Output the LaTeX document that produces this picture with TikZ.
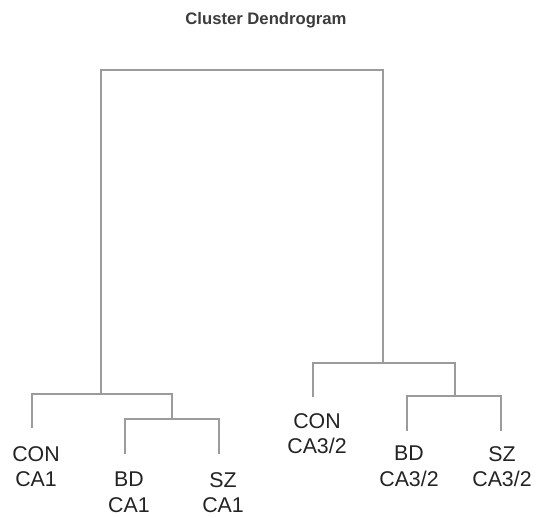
\documentclass[tikz,border=0pt]{standalone}
\usepackage{fontspec}
\setmainfont{Liberation Sans}
\definecolor{branch}{RGB}{155,155,155}
\definecolor{ink}{RGB}{35,35,35}
\begin{document}
\begin{tikzpicture}[x=0.75pt,y=-0.75pt,
  leaf/.style={anchor=north,inner sep=0pt,align=center,text=ink,
    font=\fontsize{16}{19.3}\selectfont},
  link/.style={draw=branch,line width=1.3pt}]
\useasboundingbox (0,0) rectangle (537,518);
\node[anchor=base,text={rgb,255:red,60;green,60;blue,60},
  font=\fontsize{12.5}{15}\selectfont\bfseries] (title) at (266,24) {Cluster Dendrogram};
% leaf labels
\foreach \n/\x/\y/\t in {lc1/36/446/{CON\\CA1}, lb1/129/472/{BD\\CA1}, ls1/223/472/{SZ\\CA1},
  lc3/317/413/{CON\\CA3/2}, lb3/409/446/{BD\\CA3/2}, ls3/502/446/{SZ\\CA3/2}} {
\node[leaf] (\n) at (\x,\y) {\t};}
% leaf ends and merge points
\coordinate (c1) at (32,428);
\coordinate (b1) at (125,454);
\coordinate (s1) at (219,454);
\coordinate (c3) at (313,397);
\coordinate (b3) at (407,431);
\coordinate (s3) at (501,431);
\coordinate (m1) at (172,419);
\coordinate (m2) at (101,394);
\coordinate (m3) at (455,396);
\coordinate (m4) at (383,363);
\coordinate (root) at (242,70);
\draw[link] (b1) |- (m1) -| (s1);
\draw[link] (c1) |- (m2) -| (m1);
\draw[link] (b3) |- (m3) -| (s3);
\draw[link] (c3) |- (m4) -| (m3);
\draw[link] (m2) |- (root) -| (m4);
\end{tikzpicture}
\end{document}
